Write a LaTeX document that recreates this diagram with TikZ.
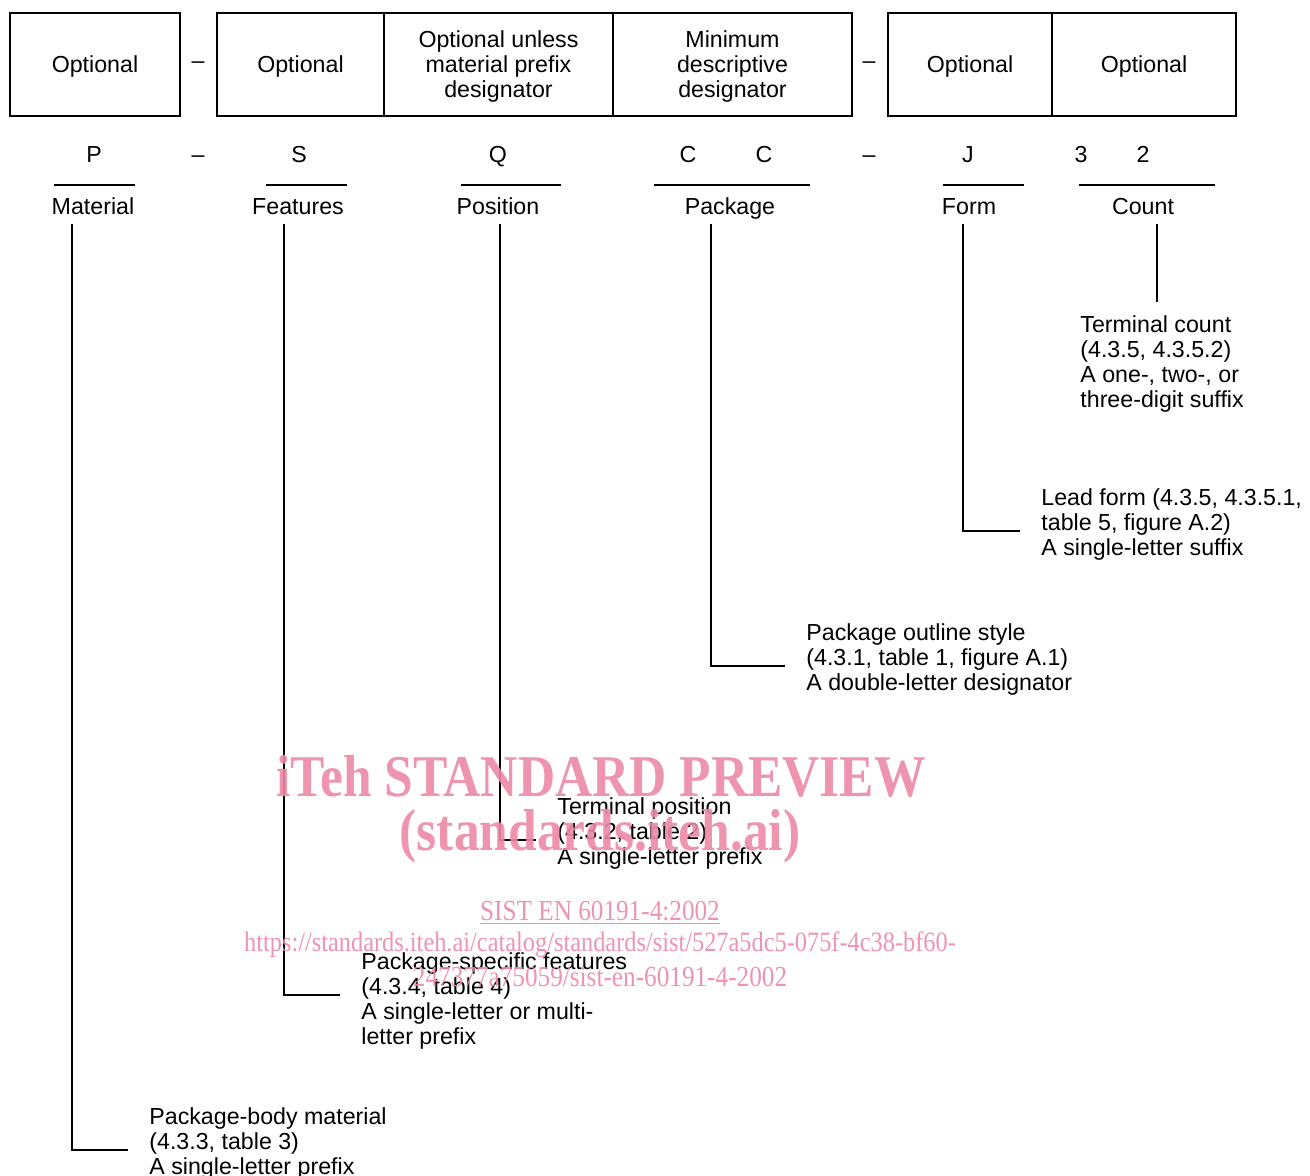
\documentclass[tikz,border=0pt]{standalone}
\usepackage{fontspec}
\setmainfont{Liberation Sans}
\newfontfamily\wmfont[FakeStretch=0.87]{Liberation Serif}
\usetikzlibrary{positioning}
\definecolor{wmpink}{RGB}{236,136,166}

\begin{document}
\begin{tikzpicture}[
    x=0.5pt, y=-0.5pt,
    font=\fontsize{11.6}{12.5}\selectfont,
    node distance=0pt,
    cell/.style={draw, line width=1pt, minimum height=51.5pt, inner sep=0pt,
                 outer sep=0pt, align=center, text depth=0pt},
    letter/.style={inner sep=0pt, text height=8.5pt, text depth=0pt},
    lbl/.style={inner sep=2pt, text height=8.5pt, text depth=2.5pt},
    desc/.style={anchor=west, align=left, inner xsep=10.5pt, inner ysep=2pt},
    bar/.style={line width=1pt},
    leader/.style={line width=1.2pt},
    wm/.style={text=wmpink, text opacity=0.9, inner sep=0pt}
]
    \useasboundingbox (0,0) rectangle (1310,1176);

    % designator fields
    \node [cell, minimum width=85pt, anchor=north west] (mfix) at (10,13) {Optional};
    \node [cell, minimum width=83.5pt, anchor=north west] (feat) at (217,13) {Optional};
    \node [cell, minimum width=114.5pt, right=of feat] (pos) {Optional unless\\material prefix\\designator};
    \node [cell, minimum width=119.5pt, right=of pos] (pkg) {Minimum\\descriptive\\designator};
    \node [cell, minimum width=82pt, anchor=north west] (form) at (888,13) {Optional};
    \node [cell, minimum width=92pt, right=of form] (cnt) {Optional};
    \node (dash1) at (198,65) {--};
    \node (dash2) at (869,65) {--};

    % example code
    \node [letter] (lp)  at (94,154)   {P};
    \node [letter] (ld1) at (198,154)  {--};
    \node [letter] (ls)  at (299,154)  {S};
    \node [letter] (lq)  at (498,154)  {Q};
    \node [letter] (lc1) at (688,154)  {C};
    \node [letter] (lc2) at (764,154)  {C};
    \node [letter] (ld2) at (869,154)  {--};
    \node [letter] (lj)  at (968,154)  {J};
    \node [letter] (l3)  at (1081,154) {3};
    \node [letter] (l2)  at (1143,154) {2};

    \foreach \a/\b in {54/135, 266/347, 461/561, 654/810, 943/1024, 1079/1215}
        \draw [bar] (\a,185) -- (\b,185);

    \node [lbl] (mat)  at (93,209)   {Material};
    \node [lbl] (fea)  at (298,209)  {Features};
    \node [lbl] (psn)  at (498,209)  {Position};
    \node [lbl] (pck)  at (730,209)  {Package};
    \node [lbl] (frm)  at (969,209)  {Form};
    \node [lbl] (count) at (1143,209) {Count};

    % descriptions
    \node [desc] (cntd) at (1059,364)   {Terminal count\\(4.3.5, 4.3.5.2)\\A one-, two-, or\\three-digit suffix};
    \node [desc] (frmd) at (1020,524)   {Lead form (4.3.5, 4.3.5.1,\\table 5, figure A.2)\\A single-letter suffix};
    \node [desc] (pckd) at (785,659)    {Package outline style\\(4.3.1, table 1, figure A.1)\\A double-letter designator};
    \node [desc] (psnd) at (536,833)    {Terminal position\\(4.3.2, table 2)\\A single-letter prefix};
    \node [desc] (fead) at (340,1000.5) {Package-specific features\\(4.3.4, table 4)\\A single-letter or multi-\\letter prefix};
    \node [desc] (matd) at (128,1143)   {Package-body material\\(4.3.3, table 3)\\A single-letter prefix};

    % leaders
    \coordinate (cntk) at (1157,302);
    \coordinate (frmk) at (963,531);
    \coordinate (pckk) at (711,666);
    \coordinate (psnk) at (500,840);
    \coordinate (feak) at (284,995);
    \coordinate (matk) at (72,1150);

    \draw [leader] (count.south -| cntk) -- (cntk);
    \draw [leader] (frm.south -| frmk) -- (frmk) -- (frmk -| frmd.west);
    \draw [leader] (pck.south -| pckk) -- (pckk) -- (pckk -| pckd.west);
    \draw [leader] (psn.south -| psnk) -- (psnk) -- (psnk -| psnd.west);
    \draw [leader] (fea.south -| feak) -- (feak) -- (feak -| fead.west);
    \draw [leader] (mat.south -| matk) -- (matk) -- (matk -| matd.west);

    % watermark
    \node [wm, font=\wmfont\bfseries\fontsize{29.6}{29.6}\selectfont] (wm1) at (601,776) {iTeh STANDARD PREVIEW};
    \node [wm, font=\wmfont\bfseries\fontsize{29.6}{29.6}\selectfont] (wm2) at (600,836) {(standards.iteh.ai)};
    \node [wm, font=\wmfont\fontsize{14.5}{14.5}\selectfont] (wm3) at (600,913) {\underline{SIST EN 60191-4:2002}};
    \node [wm, font=\wmfont\fontsize{14}{14}\selectfont] (wm4) at (600,945) {https://standards.iteh.ai/catalog/standards/sist/527a5dc5-075f-4c38-bf60-};
    \node [wm, font=\wmfont\fontsize{14.5}{14.5}\selectfont] (wm5) at (600,977) {247377a75059/sist-en-60191-4-2002};
\end{tikzpicture}
\end{document}
